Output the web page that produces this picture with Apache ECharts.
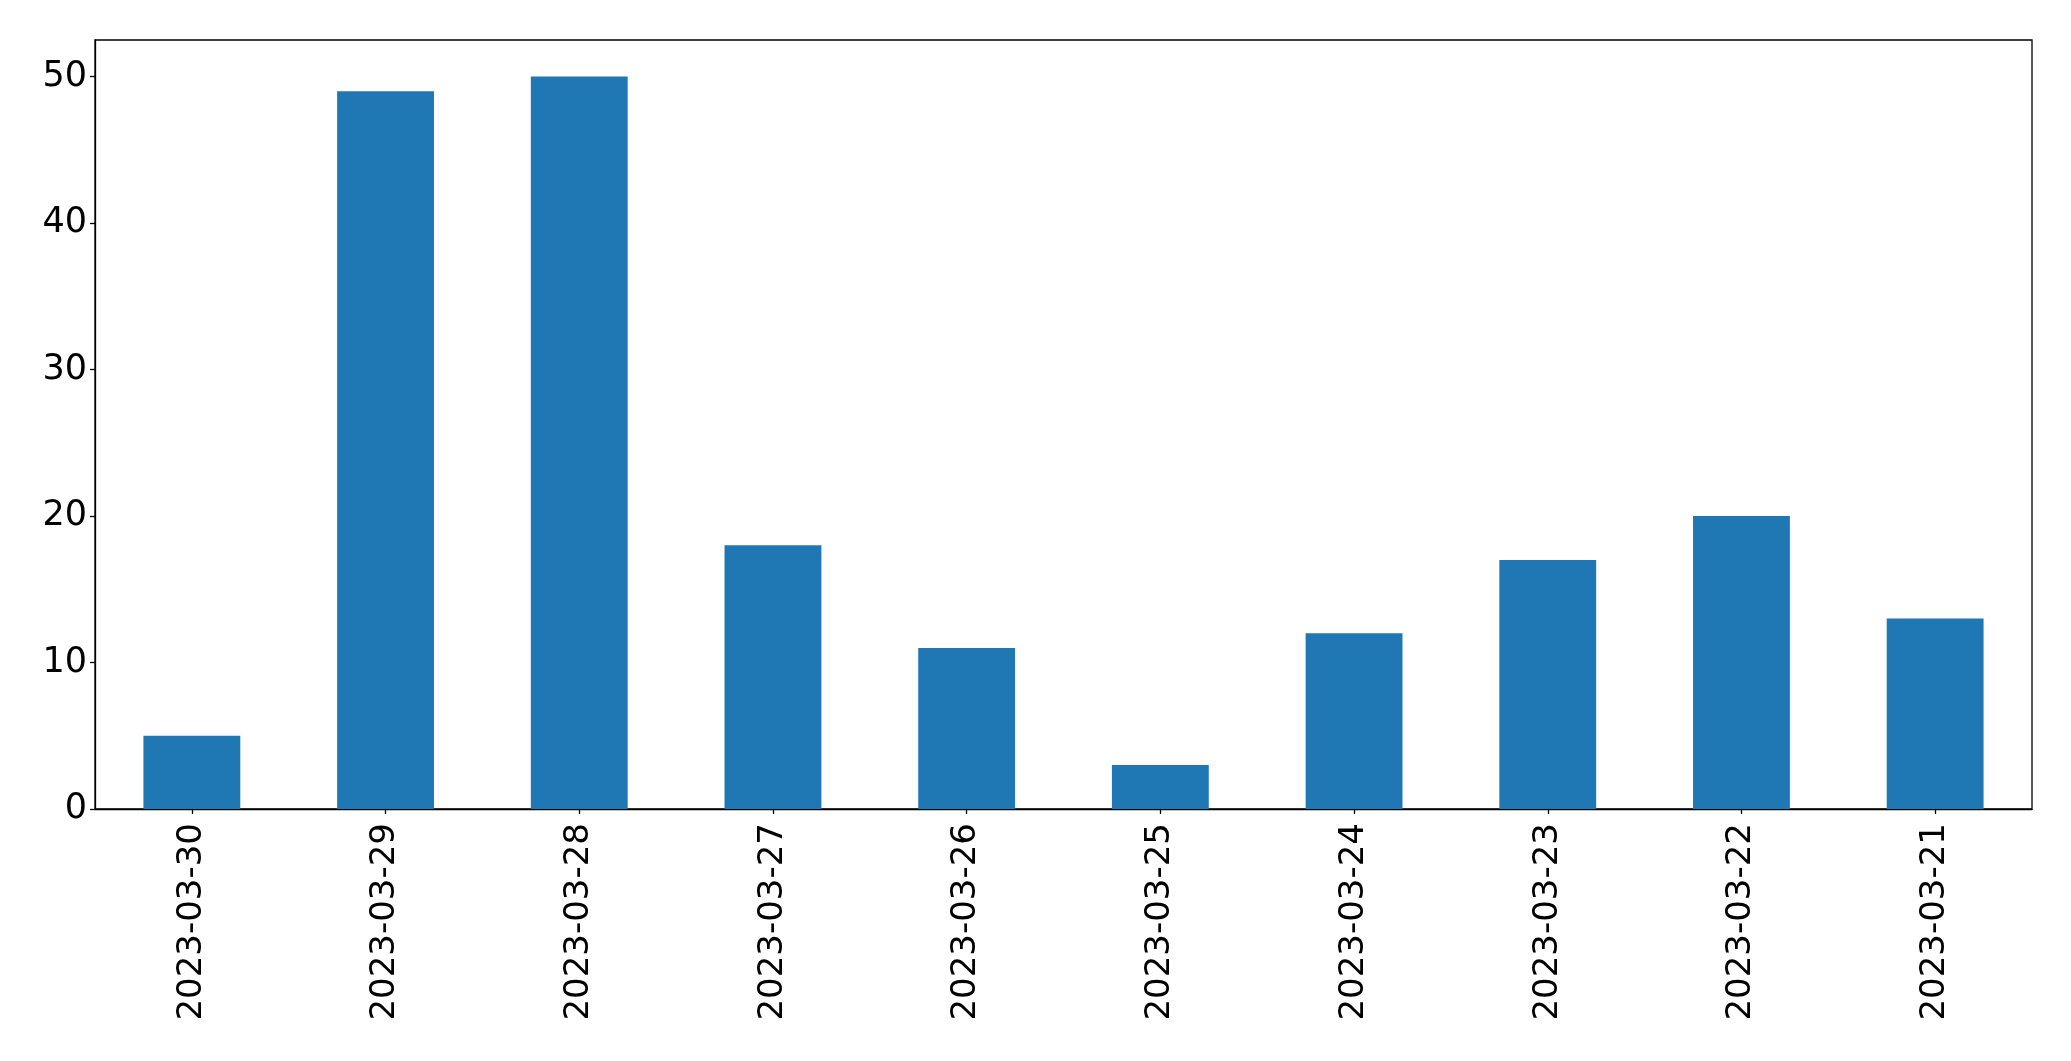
<!DOCTYPE html>
<html>
<head>
<meta charset="utf-8">
<script src="https://cdn.jsdelivr.net/npm/echarts@6/dist/echarts.min.js"></script>
<style>
html,body{margin:0;padding:0;background:#fff;}
#c{width:2071px;height:1061px;}
</style>
</head>
<body>
<div id="c"></div>
<script>
const categories = ["2023-03-30","2023-03-29","2023-03-28","2023-03-27","2023-03-26","2023-03-25","2023-03-24","2023-03-23","2023-03-22","2023-03-21"];
const values = [5, 49, 50, 18, 11, 3, 12, 17, 20, 13];
const yTicks = [0, 10, 20, 30, 40, 50];

const chart = echarts.init(document.getElementById('c'), null, {renderer:'canvas'});
const font = 'DejaVu Sans';
chart.setOption({
  animation: false,
  backgroundColor: '#ffffff',
  grid: {left: 95, top: 40, width: 1937, height: 769, show: true, borderColor: '#000', borderWidth: 1.3, backgroundColor: 'transparent'},
  xAxis: {
    type: 'category',
    data: categories,
    boundaryGap: true,
    axisLine: {show: true, lineStyle: {color: '#000', width: 1.3}},
    axisTick: {show: true, alignWithLabel: true, length: 5, lineStyle: {color: '#000', width: 1.3}},
    axisLabel: {rotate: 90, margin: 14, fontFamily: font, fontSize: 34, color: '#000', interval: 0},
    splitLine: {show: false}
  },
  yAxis: {
    type: 'value',
    min: 0, max: 52.5, interval: 10,
    axisLine: {show: true, lineStyle: {color: '#000', width: 1.3}},
    axisTick: {show: true, length: 5, lineStyle: {color: '#000', width: 1.3}},
    axisLabel: {margin: 8, fontFamily: font, fontSize: 35, color: '#000',
      formatter: v => yTicks.includes(v) ? String(v) : '', showMaxLabel: false},
    splitLine: {show: false}
  },
  series: [{
    type: 'bar',
    data: values,
    barWidth: '50%',
    itemStyle: {color: '#1f77b4'}
  }]
});
</script>
</body>
</html>
